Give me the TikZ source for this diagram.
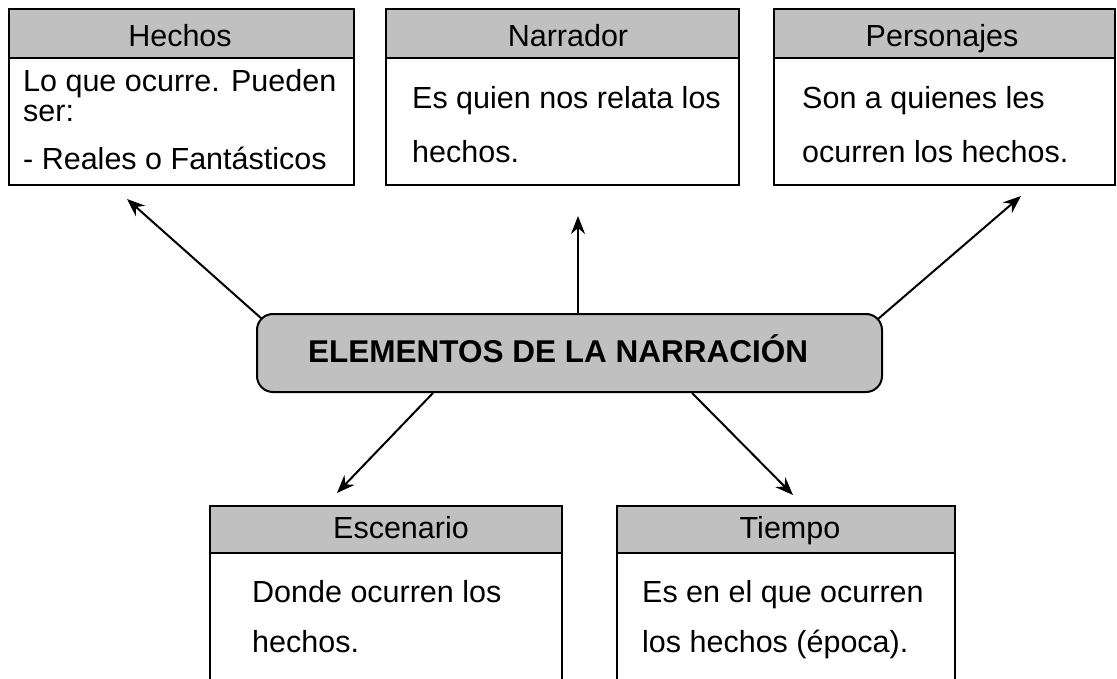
\documentclass[tikz,border=0pt]{standalone}
\usepackage{fontspec}
\setmainfont{Liberation Sans}
\usetikzlibrary{arrows.meta,calc}
\definecolor{hdrgray}{HTML}{C0C0C0}
\begin{document}
\begin{tikzpicture}[x=1pt,y=-1pt,
  bodybox/.style={draw=black, line width=2pt, fill=white, inner sep=0pt, anchor=north west},
  headbox/.style={draw=black, line width=2pt, fill=hdrgray, inner sep=0pt, anchor=north west, minimum height=49pt},
  txt/.style={inner sep=0pt, anchor=base west, font=\fontsize{30.5}{36}\selectfont},
  hdr/.style={inner sep=0pt, anchor=base, font=\fontsize{30.5}{36}\selectfont},
  conn/.style={line width=2pt, -{Stealth[length=18pt,width=14pt,inset=6pt]}}]
\useasboundingbox (0,0) rectangle (1117,679);
\clip (0,0) rectangle (1117,679);
\fill[white] (0,0) rectangle (1117,679);

% top boxes
\node[bodybox, minimum width=345pt, minimum height=127pt] (hechosb) at (8,57) {};
\node[headbox, minimum width=345pt] (hechosh) at (8,8) {};
\node[hdr] (hechost) at (180,47) {Hechos};
\node[txt] (hechos1) at (23,92) {Lo que ocurre. Pueden};
\node[txt] (hechos2) at (23,122) {ser:};
\node[txt] (hechos3) at (23,170) {- Reales o Fantásticos};

\node[bodybox, minimum width=353pt, minimum height=127pt] (narrb) at (385,57) {};
\node[headbox, minimum width=353pt] (narrh) at (385,8) {};
\node[hdr] (narrt) at (568,47) {Narrador};
\node[txt] (narr1) at (412,109) {Es quien nos relata los};
\node[txt] (narr2) at (412,163) {hechos.};

\node[bodybox, minimum width=341pt, minimum height=127pt] (persb) at (773,57) {};
\node[headbox, minimum width=341pt] (persh) at (773,8) {};
\node[hdr] (perst) at (942,47) {Personajes};
\node[txt] (pers1) at (802,109) {Son a quienes les};
\node[txt] (pers2) at (802,163) {ocurren los hechos.};

% bottom boxes
\node[bodybox, minimum width=352pt, minimum height=150pt] (escb) at (209,552) {};
\node[headbox, minimum width=352pt, minimum height=47pt] (esch) at (209,505) {};
\node[hdr] (esct) at (401,538) {Escenario};
\node[txt] (esc1) at (252,602) {Donde ocurren los};
\node[txt] (esc2) at (252,652) {hechos.};

\node[bodybox, minimum width=338pt, minimum height=150pt] (tiemb) at (616,552) {};
\node[headbox, minimum width=338pt, minimum height=47pt] (tiemh) at (616,505) {};
\node[hdr] (tiemt) at (790,538) {Tiempo};
\node[txt] (tiem1) at (642,602) {Es en el que ocurren};
\node[txt] (tiem2) at (642,652) {los hechos (época).};

% central node
\node[draw=black, line width=2pt, fill=hdrgray, rounded corners=16pt,
      minimum width=625pt, minimum height=78pt, inner sep=0pt] (main) at (569.5,353) {};
\node[inner sep=0pt, anchor=base west, font=\fontsize{31.5}{38}\selectfont\bfseries] (maintxt) at (308,362) {ELEMENTOS DE LA NARRACIÓN};

% connector endpoints
\coordinate (s1) at ($(main.north west)+(6,6)$);
\coordinate (t1) at (127,199);
\coordinate (s2) at (main.north -| 578,0);
\coordinate (t2) at (578,216);
\coordinate (s3) at ($(main.north east)+(-5,6)$);
\coordinate (t3) at (1021,196);
\coordinate (s4) at (main.south -| 433,0);
\coordinate (t4) at (337,493);
\coordinate (s5) at (main.south -| 692,0);
\coordinate (t5) at (793,495);

\draw[conn] (s1) -- (t1);
\draw[conn] (s2) -- (t2);
\draw[conn] (s3) -- (t3);
\draw[conn] (s4) -- (t4);
\draw[conn] (s5) -- (t5);
\end{tikzpicture}
\end{document}
